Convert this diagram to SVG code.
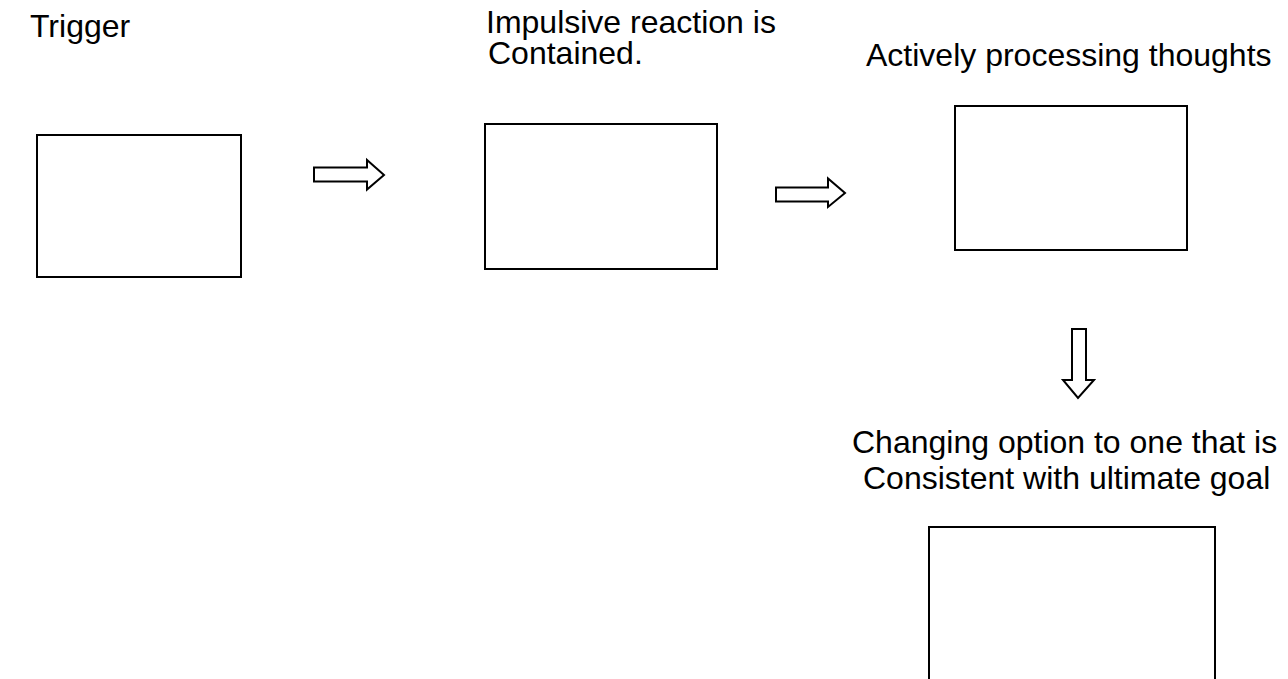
<svg xmlns="http://www.w3.org/2000/svg" width="1288" height="679" viewBox="0 0 1288 679">
<style>
.lbl{font-family:"Liberation Sans",Arial,sans-serif;font-size:32px;fill:#000}
.box{fill:#fff;stroke:#000;stroke-width:2}
.arr{fill:#fff;stroke:#000;stroke-width:2;stroke-linejoin:miter}
</style>
<rect width="1288" height="679" fill="#fff"/>
<g id="trigger">
<text class="lbl" x="30" y="37">Trigger</text>
<rect class="box" x="37" y="135" width="204" height="142"/>
</g>
<g id="impulsive">
<text class="lbl" x="486" y="33">Impulsive reaction is</text>
<text class="lbl" x="488" y="64">Contained.</text>
<rect class="box" x="485" y="124" width="232" height="145"/>
</g>
<g id="processing">
<text class="lbl" x="866" y="66">Actively processing thoughts</text>
<rect class="box" x="955" y="106" width="232" height="144"/>
</g>
<g id="changing">
<text class="lbl" x="852" y="453">Changing option to one that is</text>
<text class="lbl" x="863" y="489">Consistent with ultimate goal</text>
<rect class="box" x="929" y="527" width="286" height="170"/>
</g>
<g id="connectors">
<polygon class="arr" points="314,167.5 367,167.5 367,160 384,175 367,189.5 367,181.5 314,181.5"/>
<polygon class="arr" points="776,187.5 828,187.5 828,178.5 845,193 828,207 828,201.5 776,201.5"/>
<polygon class="arr" points="1072,329 1086,329 1086,380 1094,380 1078,398 1063,380 1072,380"/>
</g>
</svg>
